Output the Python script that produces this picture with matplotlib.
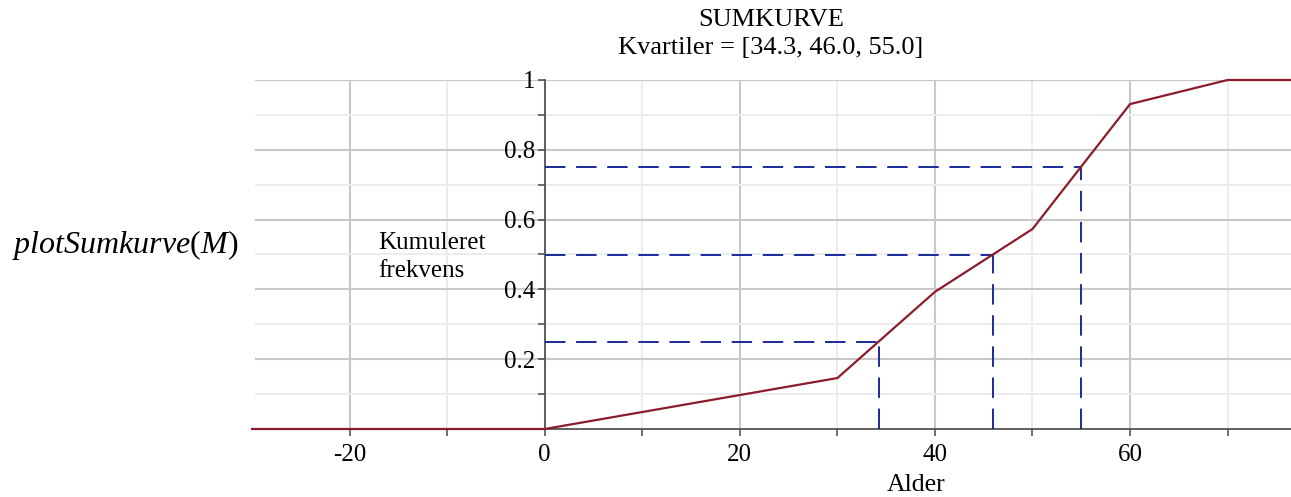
import numpy as np
import matplotlib
matplotlib.use("Agg")
import matplotlib.pyplot as plt
from matplotlib.ticker import MultipleLocator, FixedLocator

# sumkurve (cumulative frequency) data
alder = [-30, 0, 30, 40, 50, 60, 70, 77]
kumuleret = [0, 0, 0.146, 0.393, 0.573, 0.931, 1.0, 1.0]

kvartiler = [34.3, 46.0, 55.0]
niveauer = [0.25, 0.5, 0.75]

xticks = [-20, 0, 20, 40, 60]
xticklabels = ["-20", "0", "20", "40", "60"]
yticks = [0.2, 0.4, 0.6, 0.8, 1.0]
yticklabels = ["0.2", "0.4", "0.6", "0.8", "1"]

plt.rcParams["font.family"] = ["Liberation Serif", "DejaVu Serif"]
plt.rcParams["mathtext.fontset"] = "custom"
plt.rcParams["mathtext.rm"] = "Liberation Serif"
plt.rcParams["mathtext.it"] = "Liberation Serif:italic"

fig = plt.figure(figsize=(12.91, 4.97), dpi=100)
ax = fig.add_axes([255 / 1291, 68 / 497, 1 - 255 / 1291, 349 / 497])

ax.set_xlim(-29.7, 76.5)
ax.set_ylim(0, 1)

# grid
ax.xaxis.set_minor_locator(MultipleLocator(10))
ax.yaxis.set_minor_locator(MultipleLocator(0.1))
ax.xaxis.set_major_locator(FixedLocator(xticks))
ax.yaxis.set_major_locator(FixedLocator(yticks))
ax.grid(which="major", color="#c8c8c8", linewidth=1.5)
ax.grid(which="minor", color="#ececec", linewidth=1.4)
ax.axhline(1.0, color="#c8c8c8", linewidth=1.5, zorder=0.5)
ax.set_axisbelow(True)

# axes through origin
for s in ["top", "right"]:
    ax.spines[s].set_visible(False)
ax.spines["left"].set_position(("data", 0))
ax.spines["bottom"].set_position(("data", 0))
ax.spines["left"].set_color("#555555")
ax.spines["bottom"].set_color("#555555")
ax.spines["left"].set_linewidth(1.3)
ax.spines["bottom"].set_linewidth(1.3)

ax.set_xticklabels(xticklabels)
ax.set_yticklabels(yticklabels)
ax.tick_params(which="both", direction="out", length=5, color="#555555", width=1.2,
               labelsize=18)
ax.tick_params(axis="y", pad=2)
ax.tick_params(axis="x", pad=6)

# curve
ax.plot(alder, kumuleret, color="#8c1c2c", linewidth=1.6, zorder=4, clip_on=False)

# quartile guides
for q, n in zip(kvartiler, niveauer):
    ax.plot([0, q], [n, n], color="#1a2a9a", linewidth=1.4, dashes=(10.5, 5.5), zorder=3)
    ax.plot([q, q], [0, n], color="#1a2a9a", linewidth=1.4, dashes=(10.5, 5.5), zorder=3)

# texts
fig.text(771 / 1291, 1 - 20 / 497, "SUMKURVE", ha="center", va="center", fontsize=19)
fig.text(771 / 1291, 1 - 48 / 497, "Kvartiler = [34.3, 46.0, 55.0]",
         ha="center", va="center", fontsize=19)
fig.text(916 / 1291, 1 - 485 / 497, "Alder", ha="center", va="center", fontsize=18.5)
fig.text(378 / 1291, 1 - 257 / 497, "Kumuleret\nfrekvens", ha="left", va="center",
         fontsize=18, linespacing=1.3)
fig.text(12 / 1291, 1 - 245 / 497, r"$plotSumkurve(M)$", ha="left", va="center",
         fontsize=23)

fig.savefig("out.png", dpi=100)
